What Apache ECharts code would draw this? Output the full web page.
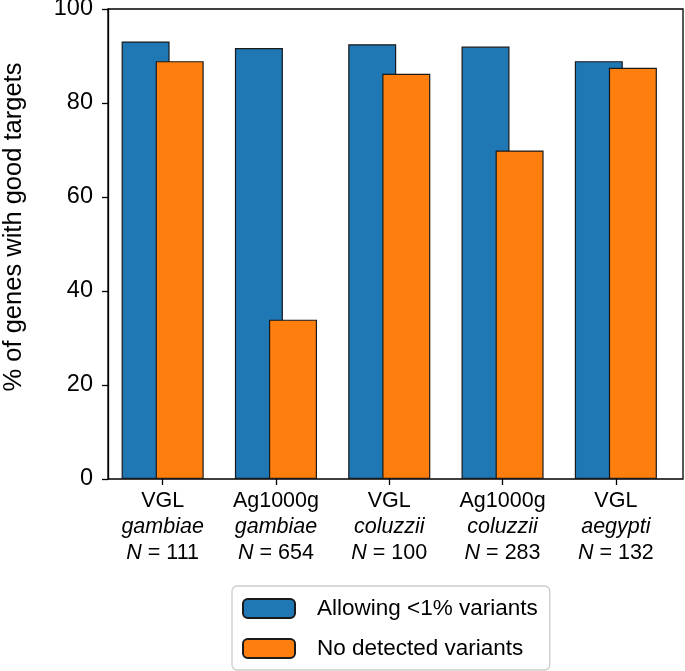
<!DOCTYPE html>
<html>
<head>
<meta charset="utf-8">
<script src="https://cdn.jsdelivr.net/npm/echarts@6/dist/echarts.min.js"></script>
<style>
  html, body { margin: 0; padding: 0; background: #fff; }
  #chart { width: 685px; height: 671px; }
</style>
</head>
<body>
<div id="chart"></div>
<script>
const sources = ['VGL', 'Ag1000g', 'VGL', 'Ag1000g', 'VGL'];
const species = ['gambiae', 'gambiae', 'coluzzii', 'coluzzii', 'aegypti'];
const counts = [111, 654, 100, 283, 132];
const allowing = [93.1, 91.7, 92.5, 92.0, 88.9];
const noVariants = [88.9, 33.9, 86.2, 69.9, 87.5];

const font = "'Liberation Sans', Arial, Helvetica, sans-serif";

let myChart = echarts.init(document.getElementById('chart'));

let option = {
    animation: false,
    textStyle: { fontFamily: font },
    grid: [
        // data grid: bands centred on the reference ticks
        { left: 106, right: 12.5, top: 9, bottom: 192, outerBoundsMode: 'none', containLabel: false },
        // frame grid: box and y axis
        { left: 108, right: 2, top: 9, bottom: 192, outerBoundsMode: 'none', containLabel: false,
          show: true, borderColor: '#000', borderWidth: 1.3, backgroundColor: 'transparent' },
    ],
    xAxis: [{
        gridIndex: 0,
        type: 'category',
        data: sources.map((s, i) => i),
        axisLine: { show: false },
        axisTick: { show: true, alignWithLabel: true, length: 6, lineStyle: { color: '#000', width: 1.3 } },
        axisLabel: {
            interval: 0,
            margin: 9,
            color: '#000',
            fontFamily: font,
            fontSize: 21.5,
            lineHeight: 26,
            formatter: function (v, idx) {
                return sources[idx] + '\n{it|' + species[idx] + '}\n{it|N} = ' + counts[idx];
            },
            rich: {
                it: { fontStyle: 'italic', fontSize: 21.5, fontFamily: font, color: '#000', lineHeight: 26 },
            },
        },
    }, {
        gridIndex: 1,
        type: 'value',
        show: false,
    }],
    yAxis: [{
        gridIndex: 0,
        type: 'value',
        min: 0,
        max: 100,
        show: false,
    }, {
        gridIndex: 1,
        type: 'value',
        min: 0,
        max: 100,
        interval: 20,
        name: '% of genes with good targets',
        nameLocation: 'middle',
        nameGap: 81,
        nameTextStyle: { color: '#000', fontSize: 25.5, fontFamily: font, padding: [0, 0, 0, 34] },
        axisLine: { show: true, lineStyle: { color: '#000', width: 1.3 } },
        axisTick: { show: true, length: 6, lineStyle: { color: '#000', width: 1.3 } },
        axisLabel: { color: '#000', fontSize: 23.5, fontFamily: font, margin: 15 },
        splitLine: { show: false },
    }],
    legend: {
        orient: 'vertical',
        left: 232,
        top: 586,
        width: 312,
        padding: [11, 12, 10, 10],
        itemGap: 17,
        itemWidth: 52,
        itemHeight: 19,
        borderColor: '#cccccc',
        borderWidth: 1.3,
        borderRadius: 5,
        textStyle: { color: '#000', fontSize: 22.5, fontFamily: font, padding: [0, 0, 0, 17] },
        data: ['Allowing <1% variants', 'No detected variants'],
    },
    series: [{
        name: 'Allowing <1% variants',
        type: 'bar',
        xAxisIndex: 0,
        yAxisIndex: 0,
        barWidth: 48,
        barGap: '-29%',
        itemStyle: { color: '#1f77b4', borderColor: '#1a1a1a', borderWidth: 1.2 },
        data: allowing,
    }, {
        name: 'No detected variants',
        type: 'bar',
        xAxisIndex: 0,
        yAxisIndex: 0,
        barWidth: 48,
        barGap: '-29%',
        itemStyle: { color: '#ff7f0e', borderColor: '#1a1a1a', borderWidth: 1.2 },
        data: noVariants,
    }],
};

myChart.setOption(option);
</script>
</body>
</html>
